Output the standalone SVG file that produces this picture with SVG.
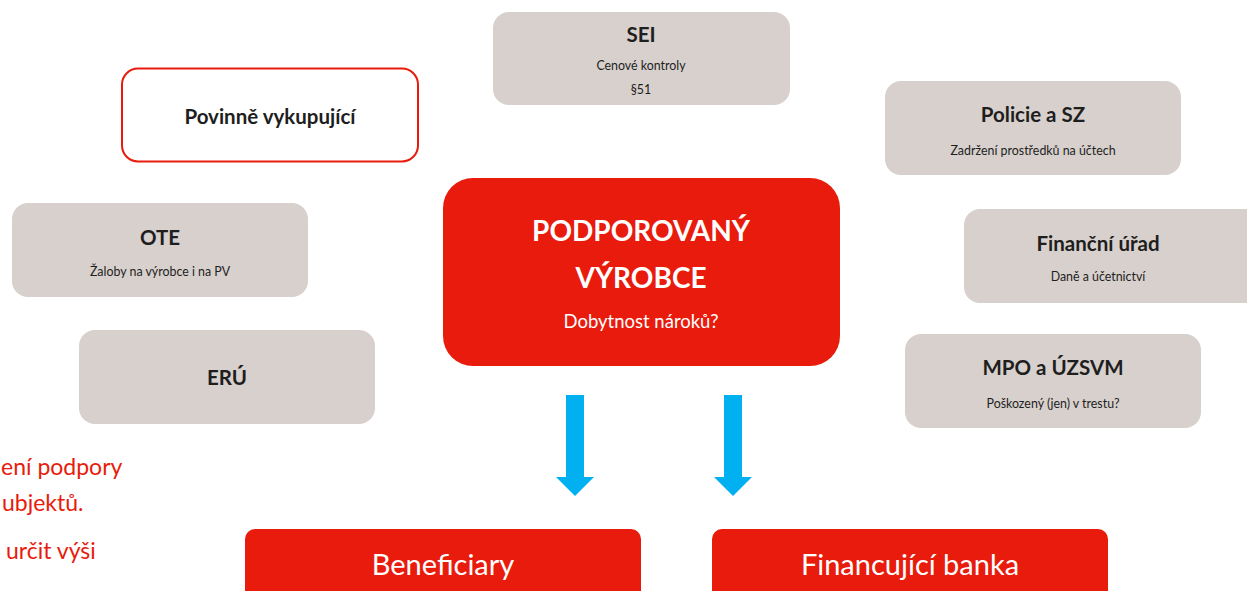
<svg xmlns="http://www.w3.org/2000/svg" width="1247" height="591" viewBox="0 0 1247 591">
<style>
.g{fill:#D7D0CC}
.r{fill:#E81B0C}
.t{font-family:Lato,"Liberation Sans",sans-serif;font-weight:bold;fill:#1E1E1E;text-anchor:middle}
.s{font-family:Lato,"Liberation Sans",sans-serif;fill:#1E1E1E;text-anchor:middle;font-size:12.4px}
.w{font-family:Lato,"Liberation Sans",sans-serif;fill:#FFFFFF;text-anchor:middle}
.lt{font-family:Lato,"Liberation Sans",sans-serif;fill:#E81B0C;font-size:23px}
.a{fill:#00B0F0}
</style>
<rect width="1247" height="591" fill="#FFFFFF"/>
<g id="sei">
<rect class="g" x="493" y="12" width="297" height="93" rx="16"/>
<text class="t" x="641" y="42" font-size="20.5">SEI</text>
<text class="s" x="641" y="70">Cenové kontroly</text>
<text class="s" x="641" y="94">§51</text>
</g>
<g id="povinne">
<rect x="122" y="68.5" width="296" height="93" rx="16" fill="#FFFFFF" stroke="#E81B0C" stroke-width="2"/>
<text class="t" x="270" y="124" font-size="20.5">Povinně vykupující</text>
</g>
<g id="policie">
<rect class="g" x="885" y="81" width="296" height="94" rx="16"/>
<text class="t" x="1033" y="122" font-size="20.5">Policie a SZ</text>
<text class="s" x="1033" y="155">Zadržení prostředků na účtech</text>
</g>
<g id="financni">
<rect class="g" x="964" y="209" width="300" height="94" rx="16"/>
<text class="t" x="1098" y="251" font-size="20.5">Finanční úřad</text>
<text class="s" x="1098" y="281">Daně a účetnictví</text>
</g>
<g id="ote">
<rect class="g" x="12" y="203" width="296" height="94" rx="16"/>
<text class="t" x="160" y="245" font-size="20.5">OTE</text>
<text class="s" x="160" y="276">Žaloby na výrobce i na PV</text>
</g>
<g id="eru">
<rect class="g" x="79" y="330" width="296" height="94" rx="16"/>
<text class="t" x="227" y="385" font-size="20.5">ERÚ</text>
</g>
<g id="mpo">
<rect class="g" x="905" y="334" width="296" height="94" rx="16"/>
<text class="t" x="1053" y="375" font-size="20.5">MPO a ÚZSVM</text>
<text class="s" x="1053" y="408">Poškozený (jen) v trestu?</text>
</g>
<g id="vyrobce">
<rect class="r" x="443" y="178" width="397" height="188" rx="30"/>
<text class="w" x="641" y="241" font-size="28" font-weight="bold">PODPOROVANÝ</text>
<text class="w" x="641" y="288" font-size="28" font-weight="bold">VÝROBCE</text>
<text class="w" x="641" y="328" font-size="18.5">Dobytnost nároků?</text>
</g>
<g id="connectors">
<polygon class="a" points="566,395 584,395 584,477 594,477 575,496 556,477 566,477"/>
<polygon class="a" points="724,395 742,395 742,477 752,477 733,496 714,477 724,477"/>
</g>
<g id="beneficiary">
<rect class="r" x="245" y="529" width="396" height="80" rx="10"/>
<text class="w" x="443" y="575" font-size="29">Beneficiary</text>
</g>
<g id="banka">
<rect class="r" x="712" y="529" width="396" height="80" rx="10"/>
<text class="w" x="910" y="575" font-size="29">Financující banka</text>
</g>
<g id="lefttext">
<text class="lt" x="1" y="475">ení podpory</text>
<text class="lt" x="2" y="511">ubjektů.</text>
<text class="lt" x="6" y="559">určit výši</text>
</g>
</svg>
